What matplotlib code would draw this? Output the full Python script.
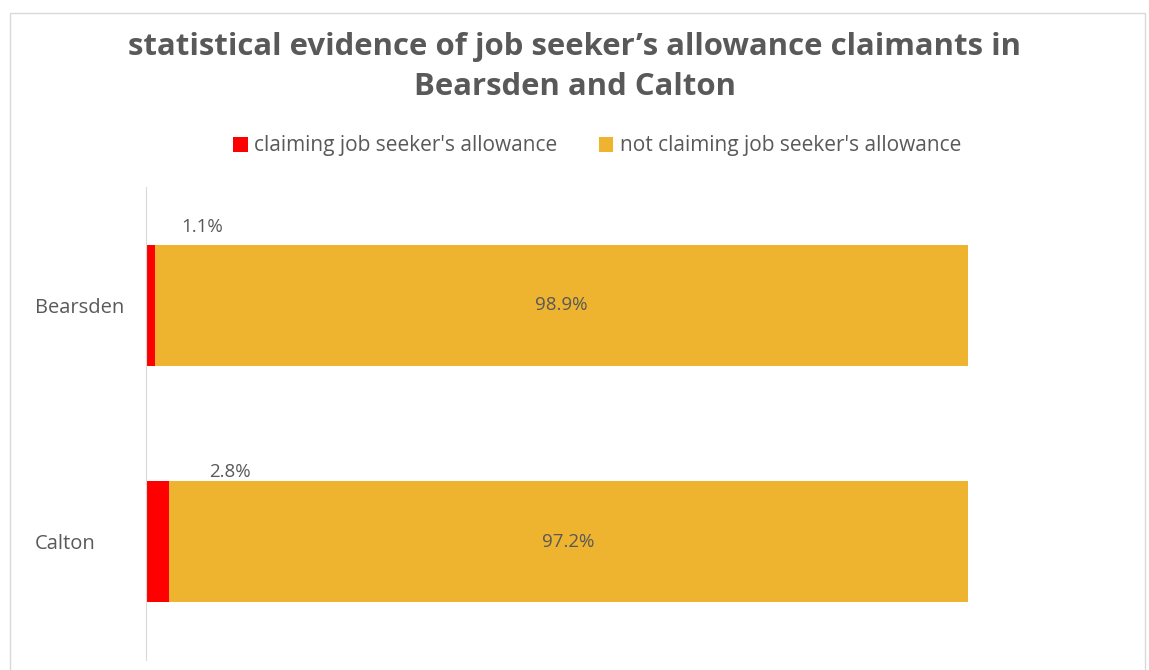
import numpy as np
import matplotlib
matplotlib.use('Agg')
import matplotlib.pyplot as plt
from matplotlib.patches import Rectangle

plt.rcParams['font.family'] = ['Open Sans', 'DejaVu Sans']

areas = ['Bearsden', 'Calton']
claiming = [1.1, 2.8]
not_claiming = [98.9, 97.2]
series_names = ["claiming job seeker's allowance", "not claiming job seeker's allowance"]

RED, GOLD, GREY = '#FF0000', '#EEB32F', '#595959'

fig = plt.figure(figsize=(11.49, 6.70), dpi=100)
fig.patches.append(Rectangle((10 / 1149, -0.01), 1135 / 1149, 1 - 13 / 670 + 0.01,
                             transform=fig.transFigure, fill=False,
                             edgecolor='#D9D9D9', lw=1))
ax = fig.add_axes([146 / 1149, 10 / 670, 822 / 1149, 473 / 670])

y = np.arange(len(areas))
h = 0.51
ax.barh(y, claiming, height=h, color=RED, label=series_names[0])
ax.barh(y, not_claiming, left=claiming, height=h, color=GOLD, label=series_names[1])
ax.set_xlim(0, 100)
ax.set_ylim(len(areas) - 0.5, -0.5)

# small labels sit above the thin red slice, big ones in the middle of the gold bar
offsets = [(34, 56), (44, 50)]
for i in y:
    ax.annotate(f'{claiming[i]:.1f}%', (claiming[i], i), xytext=offsets[i],
                textcoords='offset points', ha='center', va='center',
                fontsize=13.5, color=GREY)
    ax.text(claiming[i] + not_claiming[i] / 2, i, f'{not_claiming[i]:.1f}%',
            ha='center', va='center', fontsize=13.5, color=GREY)

# category names are left-aligned near the chart edge
ax.set_yticks(y, areas)
ax.tick_params(axis='y', length=0, pad=80, labelsize=14.5, labelcolor=GREY)
for lbl in ax.get_yticklabels():
    lbl.set_horizontalalignment('left')
ax.set_xticks([])
for s in ['top', 'right', 'bottom']:
    ax.spines[s].set_visible(False)
ax.spines['left'].set_color('#D9D9D9')

fig.text(0.5, 1 - 67 / 670, 'statistical evidence of job seeker\u2019s allowance claimants in\nBearsden and Calton',
         ha='center', va='center', fontsize=22.4, fontweight='bold', color=GREY,
         linespacing=1.45)
fig.legend(loc='center', bbox_to_anchor=(597 / 1149, 1 - 146 / 670), ncol=2, frameon=False,
           fontsize=15, labelcolor=GREY, handlelength=0.7, handleheight=0.7,
           handletextpad=0.3, columnspacing=2.0)

fig.savefig('out.png', dpi=100)
